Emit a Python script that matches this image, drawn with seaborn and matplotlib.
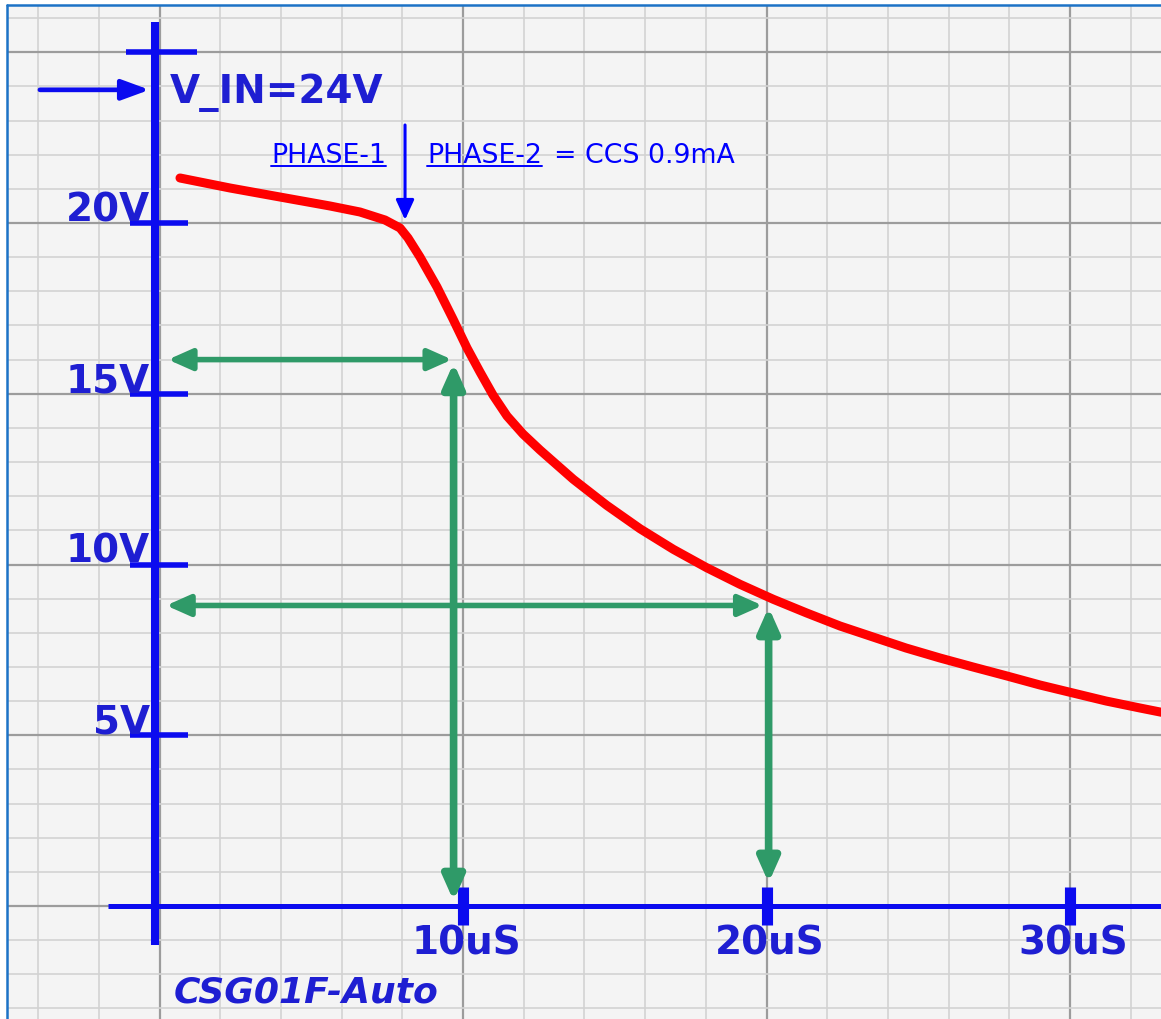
import numpy as np
import pandas as pd
import matplotlib
matplotlib.use("Agg")
import matplotlib.pyplot as plt
from matplotlib.lines import Line2D
import seaborn as sns

# ---------------- data ----------------
time_us = [0.675, 2.323, 3.970, 5.618, 6.606, 7.430, 7.924, 8.188, 8.583, 9.143,
           9.670, 10.132, 10.560, 10.988, 11.450, 11.977, 12.537, 13.634, 14.735,
           15.832, 16.929, 18.030, 19.127, 20.224, 21.324, 22.422, 23.509, 24.596,
           25.717, 26.804, 27.924, 29.012, 30.099, 31.186, 32.306, 33.13]
voltage_v = [21.318, 21.025, 20.761, 20.498, 20.322, 20.088, 19.854, 19.561, 19.004, 18.126,
             17.189, 16.340, 15.637, 14.963, 14.348, 13.821, 13.353, 12.495, 11.733,
             11.048, 10.445, 9.906, 9.420, 8.981, 8.580, 8.199, 7.877, 7.555,
             7.262, 6.999, 6.735, 6.471, 6.237, 6.003, 5.798, 5.652]

y_tick_values = [5, 10, 15, 20]
y_tick_labels = ["5V", "10V", "15V", "20V"]
x_tick_values = [10, 20, 30]
x_tick_labels = ["10uS", "20uS", "30uS"]

v_in = 23.9
phase_split_t = 8.09
readout_t = [9.69, 20.0]
readout_v = [16.0, 8.8]

title_text = "V_IN=24V"
footer_text = "CSG01F-Auto"
phase1_text = "PHASE-1"
phase2_text = "PHASE-2"
phase2_desc = "= CCS 0.9mA"

# ---------------- style ----------------
sns.set_theme(style="white")
plt.rcParams["font.family"] = ["DejaVu Sans"]

BLUE = "#0b0bef"
TXT_BLUE = "#1e1ed2"
LINK_BLUE = "#0000ff"
GREEN = "#2f9a68"
RED = "#ff0000"

fig = plt.figure(figsize=(11.61, 10.19), dpi=100)
fig.patch.set_facecolor("white")
ax = fig.add_axes([7 / 1161, 0, 1 - 7 / 1161, 1 - 5 / 1019])
ax.set_facecolor("#f4f4f4")

# pixel -> data mapping of the reference (x0=159.5px, 30.35 px/us; y0=906px, 34.15 px/V)
ax.set_xlim((7 - 159.5) / 30.35, (1161 - 159.5) / 30.35)
ax.set_ylim((906 - 1019) / 34.15, (906 - 5) / 34.15)

# graph paper grid
ax.set_xticks(np.arange(-4, 34, 2), minor=True)
ax.set_xticks(np.arange(0, 34, 10))
ax.set_yticks(np.arange(-3, 27, 1), minor=True)
ax.set_yticks(np.arange(0, 27, 5))
ax.grid(which="minor", color="#d3d3d3", lw=1.2)
ax.grid(which="major", color="#9c9c9c", lw=1.6)
ax.tick_params(which="both", length=0, labelbottom=False, labelleft=False)
for s in ax.spines.values():
    s.set_visible(False)
ax.set_axisbelow(True)

# hand drawn axes
ax.plot([-0.15, -0.15], [-1.14, 25.9], color=BLUE, lw=5.8, solid_capstyle="butt", zorder=3)
ax.plot([-1.7, 40], [0, 0], color=BLUE, lw=3.6, solid_capstyle="butt", zorder=3)
ax.plot([-1.1, 1.25], [25, 25], color=BLUE, lw=4, solid_capstyle="butt", zorder=3)
for v in y_tick_values:
    ax.plot([-0.98, 0.93], [v, v], color=BLUE, lw=4, solid_capstyle="butt", zorder=3)
for t in x_tick_values:
    ax.plot([t, t], [-0.56, 0.56], color=BLUE, lw=8, solid_capstyle="butt", zorder=3)

# tick labels
for v, lab in zip(y_tick_values, y_tick_labels):
    ax.text(-0.31, v + 0.05, lab, ha="right", va="baseline", fontsize=28,
            fontweight="bold", color=TXT_BLUE, zorder=4)
for t, lab in zip(x_tick_values, x_tick_labels):
    ax.text(t + 0.1, -1.43, lab, ha="center", va="baseline", fontsize=28,
            fontweight="bold", color=TXT_BLUE, zorder=4)
ax.text(0.48, -2.84, footer_text, ha="left", va="baseline", fontsize=26,
        fontweight="bold", fontstyle="italic", color=TXT_BLUE, zorder=4)
ax.text(0.35, 23.51, title_text, ha="left", va="baseline", fontsize=28,
        fontweight="bold", color=TXT_BLUE, zorder=4)

# V_IN arrow
ax.annotate("", xy=(-0.33, v_in), xytext=(-3.94, v_in),
            arrowprops=dict(arrowstyle="-|>,head_length=0.6,head_width=0.22",
                            mutation_scale=28, lw=3.4, color=BLUE,
                            shrinkA=0, shrinkB=0), zorder=4)

# red curve
df = pd.DataFrame({"t": time_us, "v": voltage_v})
sns.lineplot(data=df, x="t", y="v", ax=ax, color=RED, lw=6.5, sort=False,
             estimator=None, zorder=5)
ax.lines[-1].set_solid_capstyle("round")
ax.lines[-1].set_solid_joinstyle("round")

# green readout arrows
gstyle = dict(arrowstyle="<|-|>,head_length=0.45,head_width=0.2",
              mutation_scale=32, color=GREEN, shrinkA=0, shrinkB=0)
ax.annotate("", xy=(0.28, readout_v[0]), xytext=(readout_t[0] - 0.05, readout_v[0]),
            arrowprops=dict(lw=4.0, **gstyle), zorder=4)
ax.annotate("", xy=(readout_t[0], 0.15), xytext=(readout_t[0], readout_v[0] - 0.1),
            arrowprops=dict(lw=5.5, **gstyle), zorder=4)
ax.annotate("", xy=(0.22, readout_v[1]), xytext=(readout_t[1] - 0.13, readout_v[1]),
            arrowprops=dict(lw=4.0, **gstyle), zorder=4)
ax.annotate("", xy=(readout_t[1] + 0.07, 0.68), xytext=(readout_t[1] + 0.07, readout_v[1] - 0.05),
            arrowprops=dict(lw=5.5, **gstyle), zorder=4)

# phase marker arrow
ax.annotate("", xy=(phase_split_t, 20.09), xytext=(phase_split_t, 22.87),
            arrowprops=dict(arrowstyle="-|>,head_length=0.55,head_width=0.25",
                            mutation_scale=22, lw=2.2, color=LINK_BLUE,
                            shrinkA=0, shrinkB=0), zorder=4)

# phase labels
base_y = 21.76
t1 = ax.text(3.67, base_y, phase1_text, ha="left", va="baseline", fontsize=19.3,
             color=LINK_BLUE, zorder=4)
t2 = ax.text(8.81, base_y, phase2_text, ha="left", va="baseline", fontsize=19.3,
             color=LINK_BLUE, zorder=4)
fig.canvas.draw()
r = fig.canvas.get_renderer()
ex2 = t2.get_window_extent(r)
x_after = ax.transData.inverted().transform((ex2.x1, 0))[0]
ax.text(x_after + 0.4, base_y, phase2_desc, ha="left", va="baseline", fontsize=19.3,
        color=LINK_BLUE, zorder=4)
for t in (t1, t2):
    ex = t.get_window_extent(r)
    xa = ax.transData.inverted().transform((ex.x0, 0))[0]
    xb = ax.transData.inverted().transform((ex.x1, 0))[0]
    ax.plot([xa, xb], [base_y - 0.1, base_y - 0.1], color=LINK_BLUE, lw=1.4, zorder=4)

# blue frame (left & top edge of the scan)
fig.add_artist(Line2D([7 / 1161, 7 / 1161], [0, 1 - 5 / 1019], transform=fig.transFigure,
                      color="#1c72c6", lw=1.8))
fig.add_artist(Line2D([7 / 1161, 1], [1 - 5 / 1019, 1 - 5 / 1019], transform=fig.transFigure,
                      color="#1c72c6", lw=1.8))

fig.savefig("out.png", dpi=100)
